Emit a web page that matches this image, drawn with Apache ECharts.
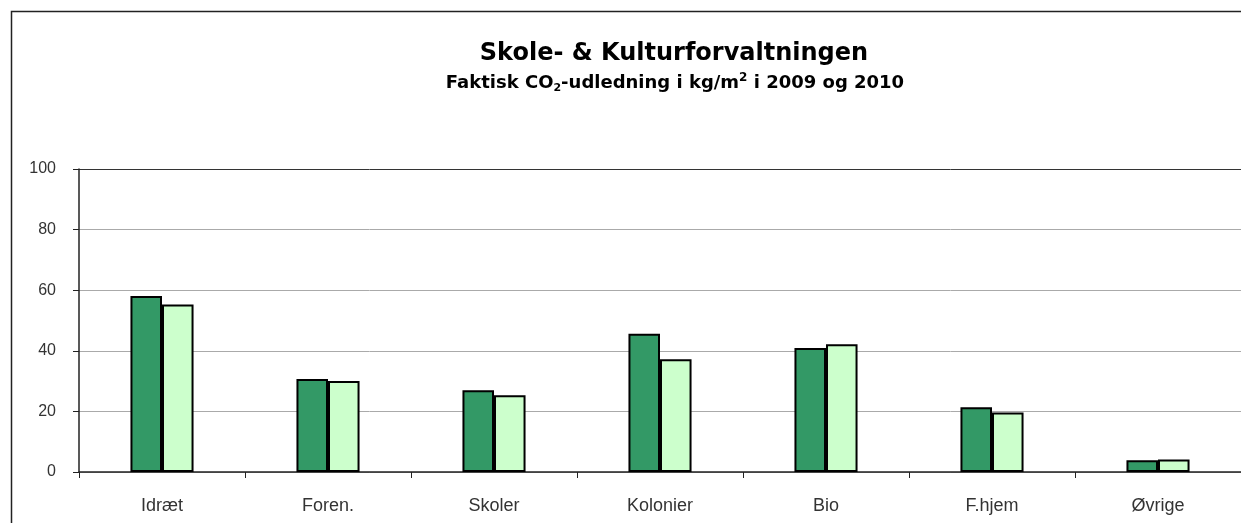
<!DOCTYPE html>
<html>
<head>
<meta charset="utf-8">
<script src="https://cdn.jsdelivr.net/npm/echarts@6/dist/echarts.min.js"></script>
<style>
html,body{margin:0;padding:0;background:#fff;}
#chart{width:1241px;height:523px;}
</style>
</head>
<body>
<div id="chart"></div>
<script>
const categories = ['Idræt', 'Foren.', 'Skoler', 'Kolonier', 'Bio', 'F.hjem', 'Øvrige'];
const values2009 = [58.1, 30.7, 27.0, 45.6, 40.9, 21.4, 3.9];
const values2010 = [55.3, 30.0, 25.3, 37.2, 42.2, 19.6, 4.1];
const yTicks = [0, 20, 40, 60, 80, 100];

const chart = echarts.init(document.getElementById('chart'), null, {renderer: 'canvas'});
const font = '"Liberation Sans", Arial, sans-serif';
const titleFont = '"DejaVu Sans", sans-serif';

chart.setOption({
  animation: false,
  backgroundColor: '#fff',
  graphic: [
    {type: 'rect', shape: {x: 11.5, y: 11.5, width: 1300, height: 600},
     style: {fill: 'none', stroke: '#222', lineWidth: 1.5}, silent: true, z: 0}
  ],
  title: [
    {
      text: 'Skole- & Kulturforvaltningen',
      left: 669, top: 37, textAlign: 'center',
      textStyle: {fontFamily: titleFont, fontWeight: 'bold', fontSize: 24, color: '#000'}
    },
    {
      text: '{t|Faktisk CO}{sub|2}{t|-udledning i kg/m}{sup|2}{t| i 2009 og 2010}',
      left: 670, top: 67, textAlign: 'center',
      textStyle: {
        rich: {
          t: {fontFamily: titleFont, fontWeight: 'bold', fontSize: 18, color: '#000', verticalAlign: 'middle', lineHeight: 22},
          sub: {fontFamily: titleFont, fontWeight: 'bold', fontSize: 11, color: '#000', verticalAlign: 'bottom', lineHeight: 22},
          sup: {fontFamily: titleFont, fontWeight: 'bold', fontSize: 12, color: '#000', verticalAlign: 'top', lineHeight: 22}
        }
      }
    }
  ],
  grid: {left: 79, right: -10, top: 169, bottom: 51, containLabel: false},
  xAxis: {
    type: 'category',
    data: categories,
    axisLine: {show: true, lineStyle: {color: '#222', width: 1.5}},
    axisTick: {show: true, alignWithLabel: false, length: 6, lineStyle: {color: '#222'}},
    axisLabel: {margin: 25, fontFamily: font, fontSize: 18, color: '#333'},
    splitLine: {show: false}
  },
  yAxis: {
    type: 'value',
    min: yTicks[0], max: yTicks[yTicks.length - 1], interval: 20,
    axisLine: {show: true, lineStyle: {color: '#222', width: 1.5}},
    axisTick: {show: true, length: 6, lineStyle: {color: '#222'}},
    axisLabel: {margin: 23, fontFamily: font, fontSize: 16, color: '#333'},
    splitLine: {show: true, lineStyle: {color: ['#aaa', '#aaa', '#aaa', '#aaa', '#aaa', '#333'], width: 1}}
  },
  series: [
    {
      name: '2009', type: 'bar', data: values2009,
      barGap: '0%', barCategoryGap: '62%',
      itemStyle: {color: '#339966', borderColor: '#000', borderWidth: 2}
    },
    {
      name: '2010', type: 'bar', data: values2010,
      barGap: '0%', barCategoryGap: '62%',
      itemStyle: {color: '#CCFFCC', borderColor: '#000', borderWidth: 2}
    }
  ]
});
</script>
</body>
</html>
